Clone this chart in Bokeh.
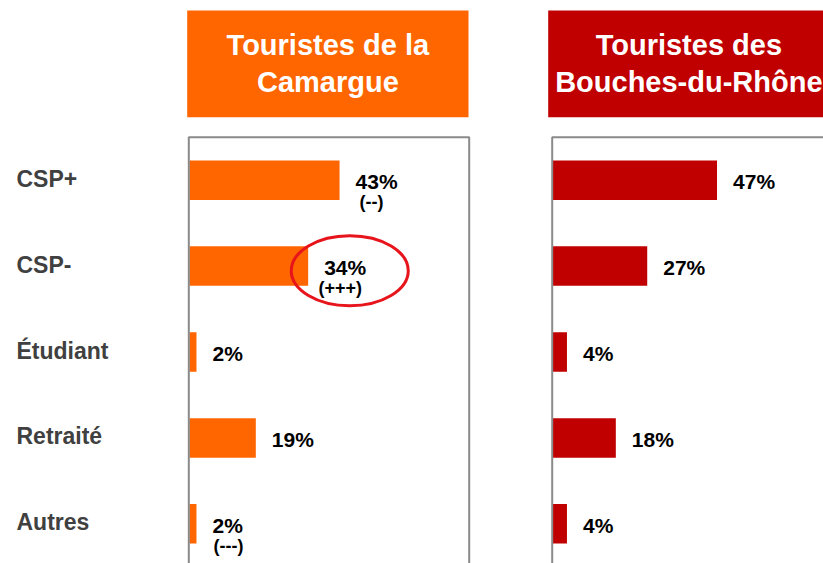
from bokeh.plotting import figure
from bokeh.models import Range1d
from bokeh.layouts import row
from bokeh.core.properties import value
from bokeh.embed import file_html
from bokeh.resources import INLINE

# ---------------- data ----------------
categories = ["CSP+", "CSP-", "Étudiant", "Retraité", "Autres"]
camargue = [43, 34, 2, 19, 2]
bouches_du_rhone = [47, 27, 4, 18, 4]
camargue_signif = ["(--)", "(+++)", "", "", "(---)"]
bouches_signif = ["", "", "", "", ""]
panel_titles = ["Touristes de la\nCamargue", "Touristes des\nBouches-du-Rhône"]
highlight_category = "CSP-"

# ---------------- layout constants ----------------
FONT = value("Liberation Sans")
H = 563            # figure height
PAGE = 0           # page offset of the figure
PX = 3.49          # pixels per percent
ROW0 = 179.7       # page y of first category centre
STEP = 85.9        # page pixels between categories
HEADER_W = 281.3
BOX_W = 280.4

idx = list(range(len(categories)))


def ydata(page_y):
    return (page_y - ROW0) / STEP


def base(width, x_range):
    p = figure(width=width, height=H, x_range=x_range,
               y_range=Range1d(start=ydata(PAGE + H), end=ydata(PAGE)),
               output_backend="svg", toolbar_location=None,
               x_axis_location=None, y_axis_location=None,
               min_border=0, title=None)
    p.grid.visible = False
    p.outline_line_color = None
    p.background_fill_color = "white"
    p.border_fill_color = "white"
    return p


# category labels column
lab = base(180, Range1d(0, 1))
lab.text(x=[0] * len(categories), y=idx, text=categories,
         x_offset=16, y_offset=-1.5, text_font=FONT, text_font_style="bold",
         text_font_size="23px", text_color="#404040",
         text_align="left", text_baseline="middle")


def panel(fig_left, fig_width, origin, values, signif, title, color,
          header_dx, box_dx):
    xr = Range1d((fig_left - origin) / PX, (fig_left + fig_width - origin) / PX)
    p = base(fig_width, xr)
    hl = header_dx / PX
    hr = (header_dx + HEADER_W) / PX
    p.quad(left=hl, right=hr, top=ydata(10), bottom=ydata(116.7),
           fill_color=color, line_color=None)
    lines = title.split("\n")
    p.text(x=[(hl + hr) / 2] * len(lines),
           y=[ydata(44.5 + 36.5 * k) for k in range(len(lines))],
           text=lines, text_font=FONT, text_font_style="bold",
           text_font_size="29px", text_color="white",
           text_align="center", text_baseline="middle")
    p.hbar(y=idx, left=0, right=values, height=0.46,
           fill_color=color, line_color=None)
    p.quad(left=box_dx / PX, right=(box_dx + BOX_W) / PX,
           top=ydata(136.7), bottom=ydata(800),
           fill_color=None, line_color="#8a8a8a", line_width=2)
    p.text(x=values, y=idx, text=[f"{v}%" for v in values],
           x_offset=16, y_offset=1.5, text_font=FONT, text_font_style="bold",
           text_font_size="21px", text_color="black",
           text_align="left", text_baseline="middle")
    si = [i for i, s in enumerate(signif) if s]
    if si:
        p.text(x=[values[i] for i in si], y=si, text=[signif[i] for i in si],
               x_offset=32, y_offset=22, text_font=FONT, text_font_style="bold",
               text_font_size="18px", text_color="black",
               text_align="center", text_baseline="middle")
    return p


left = panel(180, 360, 189.0, camargue, camargue_signif, panel_titles[0],
             "#FF6600", -2.3, -0.7)
right = panel(540, 283, 552.5, bouches_du_rhone, bouches_signif, panel_titles[1],
              "#C00000", -4.8, -0.8)

# highlight ellipse around the CSP- value of Camargue
hi = categories.index(highlight_category)
left.ellipse(x=[camargue[hi] + 41.6 / PX], y=[hi + 0.055],
             width=117, height=70, width_units="screen", height_units="screen",
             fill_color=None, line_color="#E8141B", line_width=3)

layout = row(lab, left, right)
open("out.html", "w").write(file_html(layout, INLINE))
